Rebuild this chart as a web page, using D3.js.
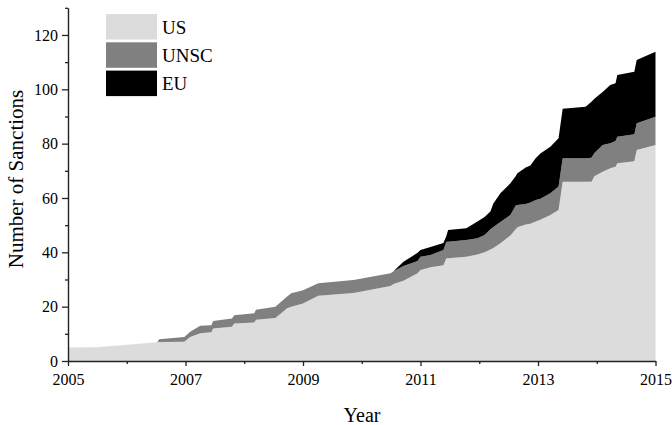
<!DOCTYPE html>
<html>
<head>
<meta charset="utf-8">
<script src="https://cdn.jsdelivr.net/npm/d3@7"></script>
<style>
  body { margin: 0; background: #fff; }
  svg { display: block; }
  text { font-family: "Liberation Serif", "Times New Roman", serif; fill: #000; }
</style>
</head>
<body>
<svg id="chart" width="672" height="425"></svg>
<script>
// Cumulative number of sanctions in force, by issuing body
const years = [2005.00, 2005.49, 2006.52, 2006.55, 2006.98, 2007.08, 2007.25, 2007.44, 2007.47, 2007.79,
               2007.83, 2008.17, 2008.20, 2008.53, 2008.73, 2008.80, 2009.00, 2009.26, 2009.86, 2010.49,
               2010.54, 2010.71, 2010.95, 2011.00, 2011.17, 2011.39, 2011.44, 2011.47, 2011.78, 2011.97,
               2012.09, 2012.19, 2012.24, 2012.36, 2012.53, 2012.62, 2012.65, 2012.79, 2012.87, 2012.96,
               2013.04, 2013.21, 2013.35, 2013.42, 2013.81, 2013.91, 2013.96, 2014.10, 2014.23, 2014.32,
               2014.35, 2014.64, 2014.68, 2015.00];
const us   = [5.0, 5.1, 6.9, 7.0, 7.1, 8.8, 10.2, 10.6, 12.0, 12.6,
              13.8, 14.2, 15.2, 15.8, 19.4, 20.0, 21.2, 24.0, 25.0, 27.6,
              28.3, 29.5, 32.3, 33.5, 34.5, 35.2, 37.8, 37.8, 38.4, 39.2,
              40.0, 41.0, 41.6, 43.3, 46.2, 48.5, 49.2, 50.2, 50.5, 51.3,
              52.0, 53.7, 55.6, 66.0, 66.0, 66.0, 68.0, 69.7, 70.9, 71.5,
              72.8, 73.5, 77.7, 79.5];
const unsc = [0, 0, 0, 1.0, 1.7, 2.0, 2.8, 2.6, 2.7, 3.0,
              3.0, 3.4, 3.7, 4.2, 4.3, 4.9, 4.8, 4.6, 4.8, 4.7,
              4.7, 5.5, 4.5, 4.9, 4.5, 5.7, 6.1, 6.1, 6.1, 6.0,
              6.4, 7.5, 7.7, 7.9, 7.5, 8.7, 8.2, 7.6, 7.8, 8.0,
              7.7, 8.0, 8.6, 8.6, 8.6, 8.8, 8.6, 9.8, 9.2, 9.5,
              9.7, 10.0, 9.8, 10.4];
const eu   = [0, 0, 0, 0, 0, 0, 0, 0, 0, 0,
              0, 0, 0, 0, 0, 0, 0, 0, 0, 0,
              0, 1.5, 3.0, 2.5, 3.0, 2.5, 2.1, 4.3, 4.4, 6.1,
              6.6, 6.5, 8.7, 10.5, 11.7, 10.8, 11.7, 13.4, 13.7, 15.3,
              16.7, 17.2, 17.8, 18.2, 19.0, 20.6, 19.9, 19.5, 21.5, 21.2,
              22.8, 23.0, 23.3, 23.9];

const seriesNames  = ["US", "UNSC", "EU"];
const seriesColors = ["#dcdcdc", "#808080", "#000000"];
const xMajorTicks = [2005, 2007, 2009, 2011, 2013, 2015];
const xMinorTicks = [2006, 2008, 2010, 2012, 2014];
const yMajorTicks = [0, 20, 40, 60, 80, 100, 120];
const yMinorTicks = [10, 30, 50, 70, 90, 110, 130];

const rows = years.map((yr, i) => ({ year: yr, US: us[i], UNSC: unsc[i], EU: eu[i] }));
const layers = d3.stack().keys(seriesNames)(rows);

const svg = d3.select("#chart");
const x = d3.scaleLinear().domain([2005, 2015]).range([68, 655.5]);
const y = d3.scaleLinear().domain([0, 130]).range([361, 7.8]);
const color = d3.scaleOrdinal().domain(seriesNames).range(seriesColors);

const area = d3.area()
  .x(d => x(d.data.year))
  .y0(d => y(d[0]))
  .y1(d => y(d[1]));

svg.append("g")
  .selectAll("path")
  .data(layers)
  .join("path")
  .attr("fill", d => color(d.key))
  .attr("d", area);

// Axes: labelled major ticks plus short unlabelled minor ticks
const axisColor = "#222";
function styleAxis(g) {
  g.selectAll(".domain").attr("stroke", axisColor).attr("stroke-width", 1.4);
  g.selectAll(".tick line").attr("stroke", axisColor).attr("stroke-width", 1.3);
  g.selectAll(".tick text").style("font-family", '"Liberation Serif", serif').style("font-size", "16px").attr("fill", "#000");
}

svg.append("g")
  .attr("transform", "translate(0,361)")
  .call(d3.axisBottom(x).tickValues(xMinorTicks).tickSize(3).tickFormat(""))
  .call(g => g.select(".domain").remove())
  .call(styleAxis);
svg.append("g")
  .attr("transform", "translate(0,361)")
  .call(d3.axisBottom(x).tickValues(xMajorTicks).tickSize(5).tickSizeOuter(0).tickPadding(8).tickFormat(d3.format("d")))
  .call(styleAxis);

svg.append("g")
  .attr("transform", "translate(68,0)")
  .call(d3.axisLeft(y).tickValues(yMinorTicks).tickSize(3).tickFormat(""))
  .call(g => g.select(".domain").remove())
  .call(styleAxis);
svg.append("g")
  .attr("transform", "translate(68,0)")
  .call(d3.axisLeft(y).tickValues(yMajorTicks).tickSize(6).tickSizeOuter(0).tickPadding(4).tickFormat(d3.format("d")))
  .call(styleAxis);

// Axis titles
svg.append("text")
  .attr("x", 362).attr("y", 422)
  .attr("text-anchor", "middle")
  .style("font-size", "20px")
  .text("Year");
svg.append("text")
  .attr("transform", "translate(23,179) rotate(-90)")
  .attr("text-anchor", "middle")
  .style("font-size", "21px")
  .text("Number of Sanctions");

// Legend
const legend = svg.append("g").attr("transform", "translate(106,14)");
const item = legend.selectAll("g")
  .data(seriesNames)
  .join("g")
  .attr("transform", (d, i) => `translate(0,${i * 28.3})`);
item.append("rect")
  .attr("width", 51).attr("height", 25.5)
  .attr("fill", d => color(d));
item.append("text")
  .attr("x", 56).attr("y", 19.5)
  .style("font-size", "19px")
  .text(d => d);
</script>
</body>
</html>
